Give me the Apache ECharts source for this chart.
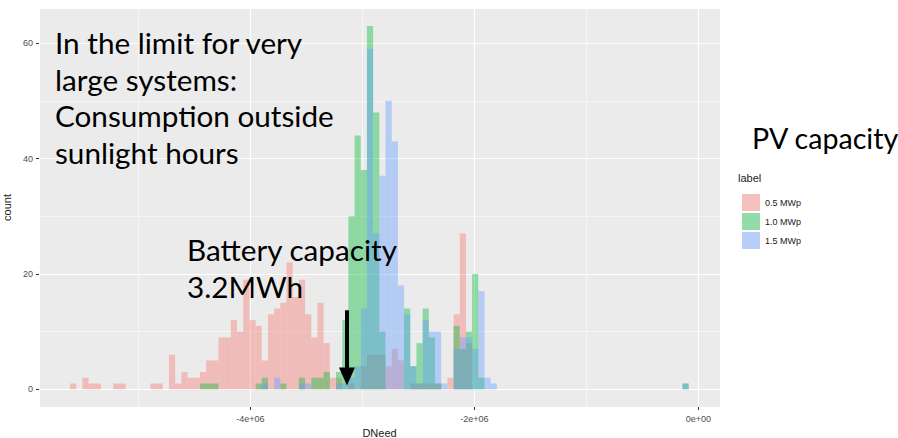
<!DOCTYPE html>
<html>
<head>
<meta charset="utf-8">
<script src="https://cdn.jsdelivr.net/npm/echarts@6/dist/echarts.min.js"></script>
<style>
html, body { margin: 0; padding: 0; background: #ffffff; }
#main { width: 898px; height: 438px; }
</style>
</head>
<body>
<div id="main"></div>
<script>
// histogram of DNeed, 100 bins, one count list per PV size
var labels = ['0.5 MWp', '1.0 MWp', '1.5 MWp'];
var binStart = -5610000;
var binWidth = 55240;

var count05 = [
  1, 0, 2, 1, 1, 0, 0, 1, 1, 0,
  0, 0, 0, 1, 1, 0, 6, 1, 3, 2,
  2, 3, 5, 5, 9, 9, 12, 10, 19, 12,
  11, 5, 13, 14, 15, 22, 16, 19, 13, 9,
  15, 8, 2, 2, 0, 1, 0, 4, 6, 6,
  6, 4, 7, 5, 0, 1, 1, 1, 1, 1,
  0, 2, 13, 27, 8, 0, 0, 0, 0, 0,
  0, 0, 0, 0, 0, 0, 0, 0, 0, 0,
  0, 0, 0, 0, 0, 0, 0, 0, 0, 0,
  0, 0, 0, 0, 0, 0, 0, 0, 0, 0
];
var count10 = [
  0, 0, 0, 0, 0, 0, 0, 0, 0, 0,
  0, 0, 0, 0, 0, 0, 0, 0, 0, 0,
  0, 1, 1, 1, 0, 0, 0, 0, 0, 0,
  1, 2, 0, 0, 1, 0, 0, 2, 0, 2,
  2, 3, 0, 3, 12, 30, 44, 38, 63, 48,
  10, 0, 0, 0, 14, 4, 8, 14, 9, 1,
  0, 0, 11, 7, 10, 20, 2, 0, 0, 0,
  0, 0, 0, 0, 0, 0, 0, 0, 0, 0,
  0, 0, 0, 0, 0, 0, 0, 0, 0, 0,
  0, 0, 0, 0, 0, 0, 0, 0, 0, 1
];
var count15 = [
  0, 0, 0, 0, 0, 0, 0, 0, 0, 0,
  0, 0, 0, 0, 0, 0, 0, 0, 0, 0,
  0, 0, 0, 0, 0, 0, 0, 0, 0, 0,
  0, 1, 0, 2, 0, 0, 0, 1, 1, 0,
  0, 0, 0, 1, 1, 2, 4, 14, 59, 27,
  37, 50, 43, 18, 13, 4, 1, 12, 10, 10,
  1, 0, 7, 9, 9, 7, 17, 2, 1, 0,
  0, 0, 0, 0, 0, 0, 0, 0, 0, 0,
  0, 0, 0, 0, 0, 0, 0, 0, 0, 0,
  0, 0, 0, 0, 0, 0, 0, 0, 0, 1
];

// arrow annotation (DNeed, count)
var arrowX = -3137000;
var arrowFrom = 13.7;
var arrowTo = 2.2;

var colors = ['#F8766D', '#00BA38', '#619CFF'];
var keyColors = ['#F4C0BD', '#91DCA8', '#B8D0F7'];

function toBins(counts) {
  var out = [];
  for (var i = 0; i < counts.length; i++) {
    if (counts[i] > 0) {
      out.push([binStart + i * binWidth, binStart + (i + 1) * binWidth, counts[i]]);
    }
  }
  return out;
}

function renderBin(params, api) {
  var p0 = api.coord([api.value(0), 0]);
  var p1 = api.coord([api.value(1), api.value(2)]);
  return {
    type: 'rect',
    shape: { x: p0[0], y: p1[1], width: p1[0] - p0[0], height: p0[1] - p1[1] },
    style: { fill: colors[params.seriesIndex], opacity: 0.4 }
  };
}

function sci(v) {
  if (v === 0) return '0e+00';
  return (v / 1e6) + 'e+06';
}

var chartDom = document.getElementById('main');
var myChart = echarts.init(chartDom, null, { renderer: 'svg' });

var allCounts = [count05, count10, count15];
var series = labels.map(function (name, i) {
  return {
    type: 'custom',
    name: name,
    renderItem: renderBin,
    encode: { x: [0, 1], y: 2 },
    data: toBins(allCounts[i]),
    itemStyle: { color: colors[i], opacity: 0.4 },
    silent: true
  };
});

series[2].markLine = {
  silent: true,
  symbol: ['none', 'triangle'],
  symbolSize: [16, 18],
  label: { show: false },
  lineStyle: { color: '#000000', width: 4, type: 'solid', opacity: 1 },
  itemStyle: { color: '#000000', opacity: 1 },
  data: [[{ coord: [arrowX, arrowFrom] }, { coord: [arrowX, arrowTo] }]]
};

var option = {
  animation: false,
  backgroundColor: '#ffffff',
  textStyle: { fontFamily: 'Liberation Sans' },
  grid: {
    left: 39, top: 8, width: 681, height: 399,
    containLabel: false,
    outerBoundsMode: 'none',
    show: true, backgroundColor: '#EBEBEB', borderWidth: 0
  },
  xAxis: {
    type: 'value',
    min: -5886600,
    max: 193800,
    splitNumber: 3,
    name: 'DNeed',
    nameLocation: 'middle',
    nameGap: 16,
    nameTextStyle: { fontSize: 11, color: '#1a1a1a' },
    axisLine: { show: false, onZero: false },
    axisTick: { show: true, length: 3, lineStyle: { color: '#333333' } },
    axisLabel: {
      fontSize: 9, color: '#4D4D4D', margin: 7, formatter: sci,
      showMinLabel: false, showMaxLabel: false
    },
    splitLine: { show: true, lineStyle: { color: '#ffffff', width: 1 } },
    minorTick: { show: false, splitNumber: 2 },
    minorSplitLine: { show: true, lineStyle: { color: '#ffffff', width: 0.5 } }
  },
  yAxis: {
    type: 'value',
    min: -3.07,
    max: 66.1,
    splitNumber: 3,
    name: 'count',
    nameLocation: 'middle',
    nameGap: 19,
    nameTextStyle: { fontSize: 11, color: '#1a1a1a' },
    axisLine: { show: false, onZero: false },
    axisTick: { show: true, length: 3, lineStyle: { color: '#333333' } },
    axisLabel: {
      fontSize: 9, color: '#4D4D4D', margin: 6,
      showMinLabel: false, showMaxLabel: false
    },
    splitLine: { show: true, lineStyle: { color: '#ffffff', width: 1 } },
    minorTick: { show: false, splitNumber: 2 },
    minorSplitLine: { show: true, lineStyle: { color: '#ffffff', width: 0.5 } }
  },
  legend: {
    orient: 'vertical',
    left: 737,
    top: 189,
    itemWidth: 18,
    itemHeight: 17,
    itemGap: 2,
    icon: 'rect',
    selectedMode: false,
    textStyle: { fontSize: 9, color: '#1a1a1a', fontFamily: 'Liberation Sans' },
    data: labels.map(function (l, i) {
      return { name: l, itemStyle: { color: keyColors[i], opacity: 1 } };
    })
  },
  graphic: [
    {
      type: 'text', left: 738, top: 172, z: 100,
      style: { text: 'label', fontSize: 11, fill: '#1a1a1a', fontFamily: 'Liberation Sans' }
    },
    {
      type: 'text', x: 55, y: 24, z: 100,
      style: {
        text: 'In the limit for very\nlarge systems:\nConsumption outside\nsunlight hours',
        fontSize: 29.7, lineHeight: 36.7, fill: '#000000', fontFamily: 'Lato',
        verticalAlign: 'top'
      }
    },
    {
      type: 'text', x: 187, y: 231, z: 100,
      style: {
        text: 'Battery capacity\n3.2MWh',
        fontSize: 29.7, lineHeight: 37, fill: '#000000', fontFamily: 'Lato',
        verticalAlign: 'top'
      }
    },
    {
      type: 'text', x: 752, y: 119, z: 100,
      style: {
        text: 'PV capacity',
        fontSize: 28.6, lineHeight: 37, fill: '#000000', fontFamily: 'Lato',
        verticalAlign: 'top'
      }
    }
  ],
  series: series
};

myChart.setOption(option);
</script>
</body>
</html>
